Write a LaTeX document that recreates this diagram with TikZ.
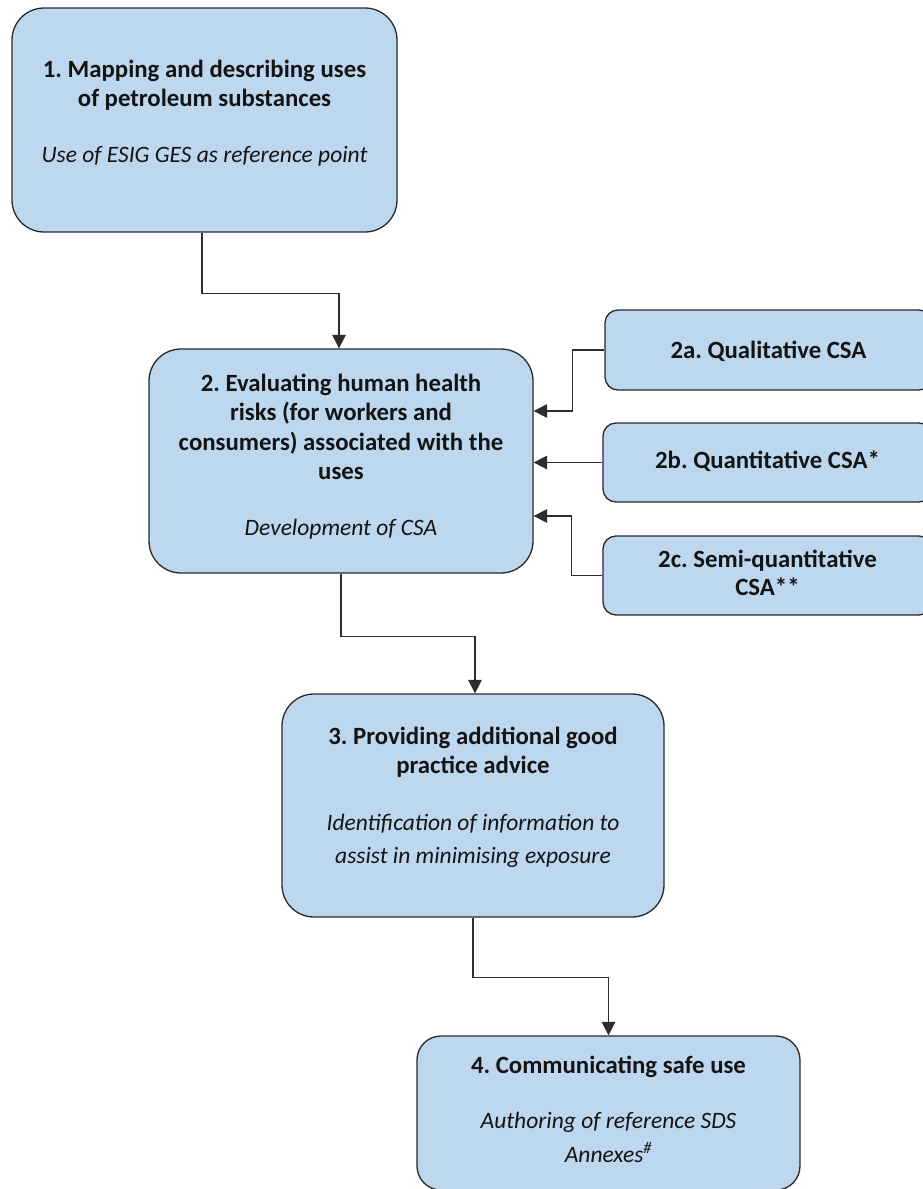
\documentclass[tikz,border=0pt]{standalone}
\usepackage{fontspec}
\setmainfont{Carlito}
\usetikzlibrary{arrows.meta}
\definecolor{boxfill}{RGB}{189,215,238}
\definecolor{boxline}{RGB}{40,40,40}
\definecolor{conn}{RGB}{45,45,45}
\newcommand\hb{\fontsize{24.8}{29.5}\selectfont\bfseries\upshape}
\newcommand\hi{\fontsize{23.5}{29.5}\selectfont\mdseries\itshape}
\begin{document}
\frenchspacing
\begin{tikzpicture}[x=1pt,y=-1pt,
  bigbox/.style={draw=boxline,fill=boxfill,line width=1.3pt,rounded corners=32pt,inner sep=0pt},
  smallbox/.style={draw=boxline,fill=boxfill,line width=1.3pt,rounded corners=13pt,inner sep=0pt},
  lastbox/.style={draw=boxline,fill=boxfill,line width=1.3pt,rounded corners=24pt,inner sep=0pt},
  txt/.style={align=center,inner sep=0pt,anchor=north,text=black!92,font=\frenchspacing\hb},
  conn/.style={draw=conn,line width=1.5pt},
  arr/.style={conn,-{Triangle[length=13.5pt,width=13.5pt]}}]
\useasboundingbox (0,0) rectangle (923,1189);
\clip (0,0) rectangle (923,1189);
% boxes
\node[bigbox,minimum width=385pt,minimum height=224pt] (b1) at (204.5,120) {};
\node[bigbox,minimum width=384pt,minimum height=224pt] (b2) at (341,461) {};
\node[smallbox,minimum width=327pt,minimum height=80pt] (b2a) at (768.5,350) {};
\node[smallbox,minimum width=329pt,minimum height=79pt] (b2b) at (767.5,462.5) {};
\node[smallbox,minimum width=329pt,minimum height=79pt] (b2c) at (767.5,575.5) {};
\node[bigbox,minimum width=382pt,minimum height=223pt] (b3) at (473,805.5) {};
\node[lastbox,minimum width=383pt,minimum height=154pt] (b4) at (608.5,1113) {};
% texts
\node[txt] (t1) at (204.5,59.5) {\hb 1. Mapping and describing uses\\\hb of petroleum substances\\[26pt]\hi Use of ESIG GES as reference point};
\node[txt] (t2) at (341,373.5) {\hb 2. Evaluating human health\\\hb risks (for workers and\\\hb consumers) associated with the\\\hb uses\\[26pt]\hi Development of CSA};
\node[txt] (t2a) at (768.5,340.5) {\hb 2a. Qualitative CSA};
\node[txt] (t2b) at (767.5,450.5) {\hb 2b. Quantitative CSA*};
\node[txt,font=\frenchspacing\fontsize{24.8}{28}\selectfont\bfseries] (t2c) at (767.5,549.5) {2c. Semi-quantitative\\CSA**};
\node[txt] (t3) at (473,726.5) {\hb 3. Providing additional good\\\hb practice advice\\[27pt]\hi Identification of information to\\[3.5pt]\hi assist in minimising exposure};
\node[txt] (t4) at (608.5,1055.5) {\hb 4. Communicating safe use\\[25.5pt]\hi Authoring of reference SDS\\[4.5pt]\hi Annexes\textsuperscript{\#}};
% connectors
\draw[arr] ([xshift=-2.5pt]b1.south) -- ++(0,61) -| ([xshift=-2pt]b2.north);
\draw[arr] (b2.south) -- ++(0,63) -| ([xshift=2pt]b3.north);
\draw[arr] (b3.south) -- ++(0,60) -| (b4.north);
\draw[arr] (b2a.west) -- ++(-32,0) |- ([yshift=50pt]b2.east);
\draw[arr] (b2b.west) -- (b2b.west -| b2.east);
\draw[arr] (b2c.west) -- ++(-31,0) |- ([yshift=-55pt]b2.east);
\end{tikzpicture}
\end{document}
